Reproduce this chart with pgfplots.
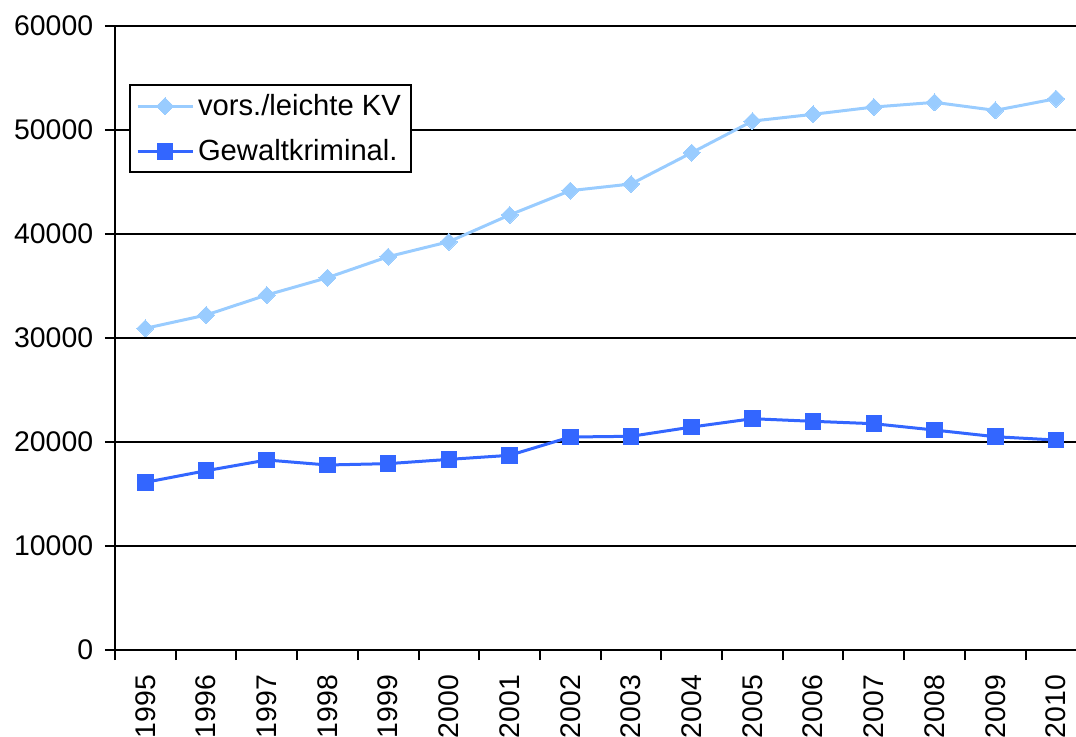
\documentclass[border=0pt]{standalone}
\usepackage{pgfplots}
\pgfplotsset{compat=1.18}
\usepackage{fontspec}
\setmainfont{Liberation Sans}
\definecolor{lightkv}{HTML}{99CCFF}
\definecolor{gewalt}{HTML}{3366FF}

\begin{document}
\begin{tikzpicture}
\path[use as bounding box] (-57.5pt,-43pt) rectangle (480.5pt,325pt);
\clip (-57.5pt,-43pt) rectangle (480.5pt,325pt);
\begin{axis}[
  at={(0pt,0pt)}, anchor=south west,
  scale only axis, width=480.5pt, height=312pt,
  xmin=-0.5, xmax=15.33, ymin=0, ymax=60000,
  axis x line*=bottom, axis y line*=left,
  axis line style={black, line width=1pt},
  tick align=outside,
  major tick length=5pt, minor tick length=5pt,
  tick style={black, line width=1pt},
  ytick={0,10000,...,60000},
  scaled y ticks=false,
  ymajorgrids, major grid style={black, line width=1pt},
  xtick={0,...,15},
  xticklabels={1995,1996,1997,1998,1999,2000,2001,2002,2003,2004,2005,2006,2007,2008,2009,2010},
  minor xtick={-0.5,0.5,...,14.5},
  x tick style={draw=none},
  minor x tick style={draw=black, line width=1pt},
  /pgf/number format/1000 sep={},
  /pgf/number format/assume math mode=true,
  ticklabel style={font=\fontsize{14.2}{17}\selectfont},
  y tick label style={xshift=-2.4pt},
  x tick label style={yshift=-4pt, rotate=90, anchor=east},
  legend style={at={(0.0146,0.907)}, anchor=north west, draw=black, line width=1pt,
    font=\fontsize{14.6}{17}\selectfont, row sep=6.5pt, inner xsep=3pt, inner ysep=2.5pt,
    /tikz/every even column/.append style={column sep=2pt}},
  legend cell align=left,
  legend image code/.code={\draw[mark repeat=2, mark phase=2] plot coordinates {(0pt,0pt) (13.75pt,0pt) (27.5pt,0pt)};},
]
% vorsaetzliche / leichte Koerperverletzung
\addplot[color=lightkv, line width=1.5pt, mark=square*, mark size=3.0pt,
  mark options={rotate=45, fill=lightkv, draw=lightkv, line width=0pt}]
  coordinates {
  (0,30930) (1,32210) (2,34135) (3,35800) (4,37820) (5,39260) (6,41830) (7,44170)
  (8,44810) (9,47820) (10,50860) (11,51510) (12,52210) (13,52660) (14,51890) (15,53010)
  };
\addlegendentry{vors./leichte KV}
% Gewaltkriminalitaet
\addplot[color=gewalt, line width=1.5pt, mark=square*, mark size=3.9pt,
  mark options={fill=gewalt, draw=gewalt, line width=0pt}]
  coordinates {
  (0,16120) (1,17240) (2,18270) (3,17790) (4,17920) (5,18330) (6,18720) (7,20480)
  (8,20550) (9,21440) (10,22240) (11,21990) (12,21760) (13,21150) (14,20510) (15,20190)
  };
\addlegendentry{Gewaltkriminal.}
\end{axis}
\end{tikzpicture}
\end{document}
